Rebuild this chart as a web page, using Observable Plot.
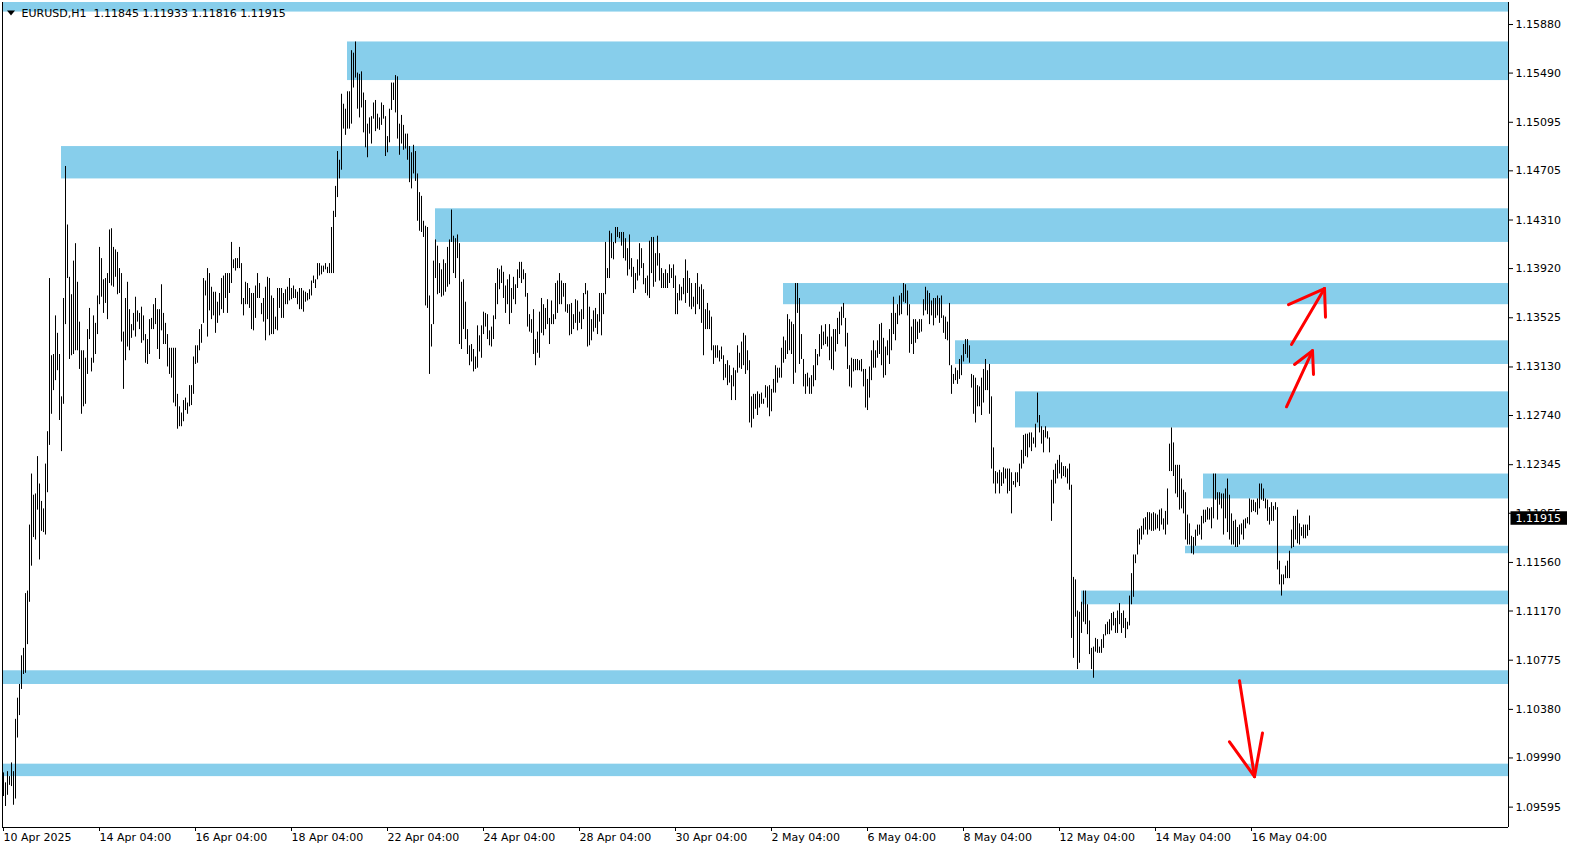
<!DOCTYPE html>
<html>
<head>
<meta charset="utf-8">
<script src="https://cdn.jsdelivr.net/npm/d3@7"></script>
<script src="https://cdn.jsdelivr.net/npm/@observablehq/plot@0.6"></script>
<style>
  html, body { margin: 0; padding: 0; background: #fff; overflow: hidden; }
  #chart { width: 1572px; height: 850px; }
  text { white-space: pre; }
</style>
</head>
<body>
<div id="chart"></div>
<script>
// ---- DATA (EURUSD H1, bar index 0 = 10 Apr 2025 04:00) ----
const symbolTitle = "EURUSD,H1";
const lastOHLC = [1.11845, 1.11933, 1.11816, 1.11915];

const highs = [
1.0987,1.0979,1.0988,1.0984,1.0995,1.0988,1.1030,1.1047,1.1058,1.1081,
1.1087,1.1131,1.1133,1.1186,1.1227,1.1210,1.1211,1.1241,1.1219,1.1205,
1.1199,1.1235,1.1261,1.1384,1.1322,1.1323,1.1354,1.1340,1.1323,1.1289,
1.1368,1.1474,1.1427,1.1385,1.1371,1.1398,1.1412,1.1381,1.1349,1.1326,
1.1326,1.1320,1.1343,1.1360,1.1320,1.1354,1.1348,1.1370,1.1409,1.1400,
1.1383,1.1384,1.1388,1.1423,1.1424,1.1409,1.1407,1.1405,1.1392,1.1388,
1.1341,1.1368,1.1381,1.1359,1.1347,1.1356,1.1369,1.1358,1.1356,1.1361,
1.1354,1.1339,1.1335,1.1351,1.1352,1.1363,1.1368,1.1359,1.1359,1.1379,
1.1356,1.1348,1.1339,1.1328,1.1328,1.1328,1.1328,1.1291,1.1281,1.1276,
1.1286,1.1288,1.1284,1.1298,1.1298,1.1321,1.1330,1.1330,1.1343,1.1347,
1.1384,1.1382,1.1392,1.1388,1.1377,1.1373,1.1373,1.1365,1.1372,1.1384,
1.1386,1.1388,1.1388,1.1388,1.1413,1.1399,1.1400,1.1400,1.1409,1.1396,
1.1368,1.1381,1.1380,1.1376,1.1372,1.1372,1.1378,1.1388,1.1380,1.1364,
1.1368,1.1377,1.1385,1.1384,1.1370,1.1368,1.1353,1.1376,1.1376,1.1376,
1.1372,1.1375,1.1377,1.1384,1.1376,1.1378,1.1375,1.1373,1.1376,1.1376,
1.1374,1.1373,1.1372,1.1375,1.1382,1.1386,1.1383,1.1396,1.1396,1.1394,
1.1394,1.1396,1.1393,1.1396,1.1425,1.1438,1.1458,1.1486,1.1479,1.1532,
1.1524,1.1520,1.1534,1.1534,1.1567,1.1565,1.1574,1.1549,1.1548,1.1550,
1.1533,1.1527,1.1508,1.1513,1.1514,1.1525,1.1527,1.1516,1.1513,1.1525,
1.1523,1.1514,1.1498,1.1520,1.1541,1.1541,1.1547,1.1546,1.1508,1.1515,
1.1507,1.1500,1.1500,1.1490,1.1485,1.1491,1.1486,1.1468,1.1453,1.1450,
1.1430,1.1426,1.1425,1.1370,1.1347,1.1398,1.1415,1.1410,1.1396,1.1391,
1.1399,1.1396,1.1409,1.1415,1.1439,1.1418,1.1416,1.1419,1.1412,1.1381,
1.1383,1.1365,1.1343,1.1330,1.1331,1.1327,1.1321,1.1346,1.1338,1.1346,
1.1357,1.1356,1.1355,1.1342,1.1345,1.1354,1.1380,1.1392,1.1391,1.1394,
1.1389,1.1378,1.1383,1.1387,1.1376,1.1385,1.1379,1.1391,1.1397,1.1397,
1.1391,1.1388,1.1372,1.1355,1.1351,1.1359,1.1335,1.1341,1.1357,1.1368,
1.1363,1.1360,1.1367,1.1352,1.1366,1.1355,1.1380,1.1382,1.1388,1.1382,
1.1380,1.1380,1.1363,1.1363,1.1364,1.1355,1.1367,1.1366,1.1357,1.1359,
1.1372,1.1380,1.1374,1.1361,1.1351,1.1358,1.1360,1.1355,1.1372,1.1372,
1.1372,1.1413,1.1392,1.1422,1.1420,1.1413,1.1425,1.1425,1.1421,1.1421,
1.1421,1.1416,1.1408,1.1419,1.1400,1.1393,1.1388,1.1399,1.1412,1.1408,
1.1396,1.1384,1.1386,1.1414,1.1417,1.1417,1.1404,1.1418,1.1404,1.1392,
1.1388,1.1391,1.1388,1.1395,1.1392,1.1395,1.1386,1.1372,1.1379,1.1377,
1.1384,1.1399,1.1390,1.1384,1.1380,1.1369,1.1380,1.1388,1.1377,1.1379,
1.1375,1.1359,1.1364,1.1358,1.1353,1.1330,1.1330,1.1330,1.1326,1.1329,
1.1322,1.1315,1.1318,1.1314,1.1306,1.1312,1.1310,1.1330,1.1324,1.1333,
1.1340,1.1338,1.1326,1.1318,1.1289,1.1291,1.1291,1.1293,1.1291,1.1292,
1.1287,1.1298,1.1297,1.1298,1.1295,1.1303,1.1314,1.1312,1.1312,1.1328,
1.1337,1.1334,1.1355,1.1351,1.1349,1.1347,1.1380,1.1380,1.1368,1.1339,
1.1319,1.1307,1.1308,1.1304,1.1306,1.1314,1.1327,1.1323,1.1339,1.1346,
1.1341,1.1347,1.1337,1.1347,1.1337,1.1343,1.1343,1.1352,1.1357,1.1361,
1.1364,1.1352,1.1340,1.1314,1.1320,1.1319,1.1319,1.1319,1.1318,1.1319,
1.1311,1.1311,1.1303,1.1313,1.1326,1.1334,1.1326,1.1334,1.1347,1.1348,
1.1336,1.1329,1.1334,1.1343,1.1356,1.1369,1.1356,1.1363,1.1370,1.1372,
1.1380,1.1379,1.1374,1.1363,1.1345,1.1351,1.1351,1.1349,1.1351,1.1351,
1.1367,1.1377,1.1374,1.1372,1.1366,1.1368,1.1368,1.1370,1.1368,1.1370,
1.1354,1.1353,1.1349,1.1364,1.1314,1.1307,1.1312,1.1310,1.1319,1.1322,
1.1331,1.1335,1.1335,1.1330,1.1307,1.1306,1.1304,1.1298,1.1297,1.1304,
1.1311,1.1319,1.1310,1.1315,1.1289,1.1248,1.1229,1.1228,1.1230,1.1228,
1.1232,1.1231,1.1231,1.1231,1.1228,1.1221,1.1228,1.1228,1.1235,1.1246,
1.1258,1.1259,1.1259,1.1260,1.1260,1.1256,1.1267,1.1292,1.1274,1.1265,
1.1262,1.1265,1.1261,1.1256,1.1222,1.1230,1.1235,1.1238,1.1242,1.1236,
1.1233,1.1233,1.1231,1.1235,1.1218,1.1144,1.1142,1.1117,1.1116,1.1124,
1.1133,1.1133,1.1122,1.1109,1.1087,1.1088,1.1095,1.1094,1.1088,1.1094,
1.1098,1.1106,1.1108,1.1110,1.1115,1.1116,1.1111,1.1117,1.1123,1.1115,
1.1117,1.1111,1.1108,1.1129,1.1147,1.1162,1.1162,1.1182,1.1183,1.1185,
1.1191,1.1192,1.1196,1.1196,1.1195,1.1196,1.1195,1.1194,1.1198,1.1199,
1.1191,1.1197,1.1215,1.1251,1.1264,1.1252,1.1234,1.1234,1.1234,1.1223,
1.1214,1.1212,1.1194,1.1187,1.1177,1.1176,1.1182,1.1186,1.1186,1.1193,
1.1198,1.1198,1.1200,1.1199,1.1200,1.1227,1.1227,1.1212,1.1212,1.1211,
1.1211,1.1215,1.1223,1.1210,1.1195,1.1189,1.1190,1.1184,1.1186,1.1187,
1.1190,1.1191,1.1192,1.1207,1.1206,1.1206,1.1204,1.1207,1.1219,1.1219,
1.1215,1.1207,1.1206,1.1200,1.1204,1.1201,1.1204,1.1200,1.1157,1.1146,
1.1146,1.1153,1.1157,1.1165,1.1182,1.1193,1.1193,1.1198,1.1187,1.1184,
1.1186,1.1186,1.1186,1.11933
];

const lows = [
1.0968,1.0960,1.0969,1.0977,1.0976,1.0961,1.0966,1.1015,1.1033,1.1054,
1.1066,1.1067,1.1090,1.1124,1.1153,1.1176,1.1174,1.1198,1.1158,1.1181,
1.1180,1.1178,1.1212,1.1250,1.1275,1.1294,1.1302,1.1310,1.1270,1.1245,
1.1283,1.1347,1.1384,1.1319,1.1322,1.1323,1.1326,1.1326,1.1311,1.1275,
1.1281,1.1283,1.1307,1.1335,1.1309,1.1316,1.1323,1.1339,1.1363,1.1369,
1.1356,1.1364,1.1351,1.1380,1.1378,1.1377,1.1385,1.1371,1.1372,1.1333,
1.1295,1.1318,1.1329,1.1326,1.1336,1.1342,1.1337,1.1349,1.1343,1.1332,
1.1334,1.1316,1.1315,1.1323,1.1343,1.1343,1.1347,1.1327,1.1319,1.1342,
1.1331,1.1331,1.1313,1.1307,1.1304,1.1284,1.1281,1.1263,1.1265,1.1265,
1.1269,1.1278,1.1275,1.1281,1.1282,1.1291,1.1315,1.1316,1.1326,1.1332,
1.1348,1.1370,1.1337,1.1358,1.1351,1.1354,1.1340,1.1348,1.1354,1.1359,
1.1356,1.1368,1.1356,1.1372,1.1380,1.1392,1.1390,1.1392,1.1392,1.1363,
1.1354,1.1363,1.1363,1.1360,1.1343,1.1342,1.1352,1.1368,1.1368,1.1355,
1.1349,1.1334,1.1351,1.1338,1.1339,1.1339,1.1343,1.1342,1.1360,1.1352,
1.1352,1.1363,1.1363,1.1366,1.1367,1.1368,1.1368,1.1363,1.1359,1.1359,
1.1357,1.1365,1.1366,1.1367,1.1370,1.1380,1.1376,1.1383,1.1386,1.1387,
1.1389,1.1391,1.1388,1.1388,1.1388,1.1388,1.1433,1.1449,1.1464,1.1471,
1.1504,1.1499,1.1504,1.1504,1.1508,1.1537,1.1545,1.1520,1.1513,1.1521,
1.1501,1.1489,1.1481,1.1500,1.1492,1.1512,1.1502,1.1504,1.1503,1.1507,
1.1512,1.1482,1.1485,1.1493,1.1519,1.1527,1.1517,1.1496,1.1483,1.1492,
1.1487,1.1488,1.1479,1.1461,1.1456,1.1468,1.1462,1.1430,1.1422,1.1421,
1.1417,1.1362,1.1360,1.1307,1.1329,1.1347,1.1384,1.1371,1.1372,1.1369,
1.1370,1.1373,1.1377,1.1379,1.1413,1.1388,1.1384,1.1400,1.1331,1.1327,
1.1343,1.1335,1.1323,1.1314,1.1317,1.1309,1.1311,1.1312,1.1325,1.1320,
1.1339,1.1345,1.1335,1.1330,1.1329,1.1335,1.1351,1.1363,1.1375,1.1380,
1.1368,1.1356,1.1363,1.1347,1.1356,1.1367,1.1363,1.1376,1.1384,1.1380,
1.1383,1.1369,1.1345,1.1341,1.1340,1.1323,1.1314,1.1324,1.1320,1.1340,
1.1338,1.1343,1.1347,1.1331,1.1347,1.1347,1.1351,1.1356,1.1363,1.1363,
1.1369,1.1357,1.1356,1.1338,1.1339,1.1343,1.1348,1.1342,1.1348,1.1343,
1.1351,1.1371,1.1329,1.1330,1.1334,1.1341,1.1344,1.1339,1.1349,1.1338,
1.1355,1.1371,1.1384,1.1384,1.1400,1.1399,1.1412,1.1417,1.1416,1.1410,
1.1400,1.1398,1.1386,1.1391,1.1385,1.1372,1.1375,1.1382,1.1386,1.1392,
1.1379,1.1372,1.1370,1.1368,1.1388,1.1377,1.1381,1.1394,1.1382,1.1376,
1.1376,1.1376,1.1376,1.1380,1.1384,1.1376,1.1355,1.1355,1.1366,1.1366,
1.1371,1.1364,1.1372,1.1361,1.1359,1.1361,1.1355,1.1363,1.1359,1.1348,
1.1322,1.1343,1.1343,1.1343,1.1326,1.1315,1.1320,1.1320,1.1317,1.1319,
1.1302,1.1304,1.1298,1.1300,1.1286,1.1297,1.1286,1.1308,1.1312,1.1311,
1.1314,1.1307,1.1310,1.1268,1.1264,1.1271,1.1279,1.1274,1.1280,1.1283,
1.1283,1.1288,1.1280,1.1273,1.1277,1.1292,1.1292,1.1300,1.1304,1.1304,
1.1316,1.1319,1.1323,1.1326,1.1323,1.1299,1.1308,1.1356,1.1315,1.1319,
1.1297,1.1291,1.1297,1.1291,1.1291,1.1297,1.1302,1.1314,1.1321,1.1327,
1.1330,1.1331,1.1329,1.1318,1.1311,1.1310,1.1325,1.1331,1.1339,1.1346,
1.1352,1.1329,1.1311,1.1297,1.1296,1.1309,1.1310,1.1310,1.1310,1.1309,
1.1297,1.1280,1.1278,1.1288,1.1302,1.1312,1.1312,1.1320,1.1323,1.1314,
1.1304,1.1306,1.1322,1.1315,1.1326,1.1339,1.1334,1.1347,1.1354,1.1355,
1.1365,1.1364,1.1354,1.1324,1.1331,1.1323,1.1332,1.1335,1.1340,1.1341,
1.1354,1.1358,1.1355,1.1347,1.1354,1.1346,1.1352,1.1354,1.1348,1.1352,
1.1340,1.1335,1.1334,1.1314,1.1291,1.1299,1.1302,1.1299,1.1303,1.1306,
1.1317,1.1323,1.1320,1.1316,1.1296,1.1275,1.1268,1.1281,1.1281,1.1274,
1.1284,1.1294,1.1294,1.1275,1.1231,1.1219,1.1211,1.1219,1.1211,1.1217,
1.1219,1.1223,1.1211,1.1213,1.1195,1.1218,1.1216,1.1220,1.1217,1.1231,
1.1235,1.1241,1.1240,1.1248,1.1245,1.1251,1.1248,1.1268,1.1260,1.1251,
1.1244,1.1256,1.1255,1.1244,1.1189,1.1203,1.1219,1.1223,1.1227,1.1223,
1.1225,1.1224,1.1219,1.1214,1.1095,1.1079,1.1112,1.1070,1.1075,1.1099,
1.1108,1.1106,1.1098,1.1082,1.1070,1.1063,1.1084,1.1083,1.1083,1.1083,
1.1087,1.1097,1.1098,1.1098,1.1101,1.1105,1.1099,1.1099,1.1106,1.1099,
1.1103,1.1095,1.1102,1.1105,1.1122,1.1128,1.1155,1.1162,1.1170,1.1174,
1.1178,1.1182,1.1178,1.1182,1.1181,1.1181,1.1182,1.1183,1.1181,1.1186,
1.1182,1.1178,1.1186,1.1229,1.1229,1.1225,1.1211,1.1208,1.1198,1.1199,
1.1195,1.1174,1.1170,1.1170,1.1163,1.1162,1.1169,1.1177,1.1178,1.1174,
1.1187,1.1188,1.1190,1.1190,1.1183,1.1191,1.1206,1.1190,1.1202,1.1199,
1.1178,1.1191,1.1180,1.1174,1.1170,1.1170,1.1168,1.1168,1.1170,1.1178,
1.1174,1.1183,1.1187,1.1186,1.1196,1.1197,1.1196,1.1194,1.1199,1.1206,
1.1205,1.1199,1.1189,1.1186,1.1189,1.1189,1.1198,1.1150,1.1138,1.1129,
1.1138,1.1143,1.1143,1.1143,1.1167,1.1168,1.1174,1.1171,1.1170,1.1177,
1.1175,1.1175,1.1177,1.11816
];

// Time-axis labels and the bar index they sit on
const timeLabels = ["10 Apr 2025","14 Apr 04:00","16 Apr 04:00","18 Apr 04:00","22 Apr 04:00",
  "24 Apr 04:00","28 Apr 04:00","30 Apr 04:00","2 May 04:00","6 May 04:00","8 May 04:00",
  "12 May 04:00","14 May 04:00","16 May 04:00"];
const timeLabelBars = [0,48,96,144,192,240,288,336,384,432,480,528,576,624];

// Price-axis tick values
const priceTicks = [1.15880,1.15490,1.15095,1.14705,1.14310,1.13920,1.13525,1.13130,
  1.12740,1.12345,1.11955,1.11560,1.11170,1.10775,1.10380,1.09990,1.09595];

// Supply / demand zones: starting bar, upper price, lower price (extend to the right)
const zoneStartBar = [-10, 172, 29, 216, 390, 476, 506, 600, 591, 539, -10, -10];
const zoneTop      = [1.1615,1.1574,1.1490,1.1440,1.1380,1.1334,1.1293,1.1227,1.1169,1.1133,1.1069,1.0994];
const zoneBottom   = [1.1598,1.1543,1.1464,1.1413,1.1363,1.1315,1.1264,1.1207,1.1163,1.1122,1.1058,1.0984];

// Hand-drawn red arrows: segments [bar1, price1, bar2, price2]
const arrowSegments = [
  [644, 1.1331, 660.5, 1.1376], [660.5, 1.1376, 642.5, 1.1363], [660.5, 1.1376, 661, 1.1353],
  [641.5, 1.1281, 654.5, 1.1326], [654.5, 1.1326, 645.5, 1.1315], [654.5, 1.1326, 655, 1.1307],
  [618, 1.1061, 625.5, 1.0984], [625.5, 1.0984, 613, 1.1012], [625.5, 1.0984, 629.5, 1.1019]
];

// ---- BUILD ----
const n = Math.min(highs.length, lows.length);
const bars = d3.range(n).map(i => ({i, high: highs[i], low: lows[i]}));
const zones = zoneStartBar.map((s, k) => ({start: s, end: 900, top: zoneTop[k], bottom: zoneBottom[k]}));
const arrows = arrowSegments.map(([a, b, c, d]) => ({x1: a, y1: b, x2: c, y2: d}));
const labelByBar = new Map(timeLabelBars.map((b, k) => [b, timeLabels[k]]));
const lastClose = lastOHLC[3];
const header = symbolTitle + "\u00a0\u00a0" + lastOHLC.map(v => v.toFixed(5)).join(" ");

const xDomain = [-0.5, 752.5];
const yDomain = [1.094314, 1.160569];

const downTriangle = {
  draw(ctx) { ctx.moveTo(-4, -2.5); ctx.lineTo(4, -2.5); ctx.lineTo(0, 2.5); ctx.closePath(); }
};

const chart = Plot.plot({
  width: 1572,
  height: 850,
  marginLeft: 2,
  marginRight: 64,
  marginTop: 2,
  marginBottom: 23,
  style: {fontFamily: "DejaVu Sans", fontSize: "11px", background: "white", color: "black", overflow: "visible"},
  x: {type: "linear", domain: xDomain},
  y: {type: "linear", domain: yDomain},
  marks: [
    Plot.rect(zones, {x1: "start", x2: "end", y1: "bottom", y2: "top", fill: "#87CEEB", clip: true}),
    Plot.ruleX(bars, {x: "i", y1: "low", y2: "high", stroke: "black", strokeWidth: 1}),
    Plot.link(arrows, {x1: "x1", y1: "y1", x2: "x2", y2: "y2", stroke: "#ff0000", strokeWidth: 3, strokeLinecap: "round"}),
    Plot.ruleX(xDomain, {stroke: "black"}),
    Plot.ruleY([yDomain[0]], {stroke: "black"}),
    Plot.axisY(priceTicks, {anchor: "right", tickSize: 4, tickPadding: 3, tickFormat: d => d.toFixed(5), label: null, fontSize: 11}),
    Plot.axisX(timeLabelBars, {anchor: "bottom", tickSize: 4, tickPadding: 2, textAnchor: "start", tickFormat: d => labelByBar.get(d), label: null, fontSize: 11}),
    Plot.text([header], {frameAnchor: "top-left", dx: 19, dy: 10.5, lineAnchor: "middle", textAnchor: "start", text: d => d, fill: "black", fontSize: 11}),
    Plot.dot([0], {frameAnchor: "top-left", dx: 8.5, dy: 10.5, symbol: downTriangle, r: 4, fill: "black", stroke: null}),
    Plot.text([lastClose], {y: d => d, frameAnchor: "right", dx: 7, textAnchor: "start", text: d => d.toFixed(5), fill: "white", fontSize: 11})
  ]
});

document.getElementById("chart").appendChild(chart);

// black background box behind the current-price label
d3.select(chart).selectAll("text").each(function() {
  if (this.textContent === lastClose.toFixed(5) && d3.select(this.parentNode).attr("fill") === "white" || (this.textContent === lastClose.toFixed(5) && this.getAttribute("fill") === "white")) {
    const bb = this.getBBox();
    const g = this.parentNode;
    const tr = this.getAttribute("transform");
    const r = document.createElementNS("http://www.w3.org/2000/svg", "rect");
    r.setAttribute("x", bb.x - 5);
    r.setAttribute("y", bb.y - 0.5);
    r.setAttribute("width", bb.width + 11);
    r.setAttribute("height", bb.height + 0.5);
    r.setAttribute("fill", "black");
    if (tr) r.setAttribute("transform", tr);
    g.insertBefore(r, this);
  }
});
</script>
</body>
</html>
